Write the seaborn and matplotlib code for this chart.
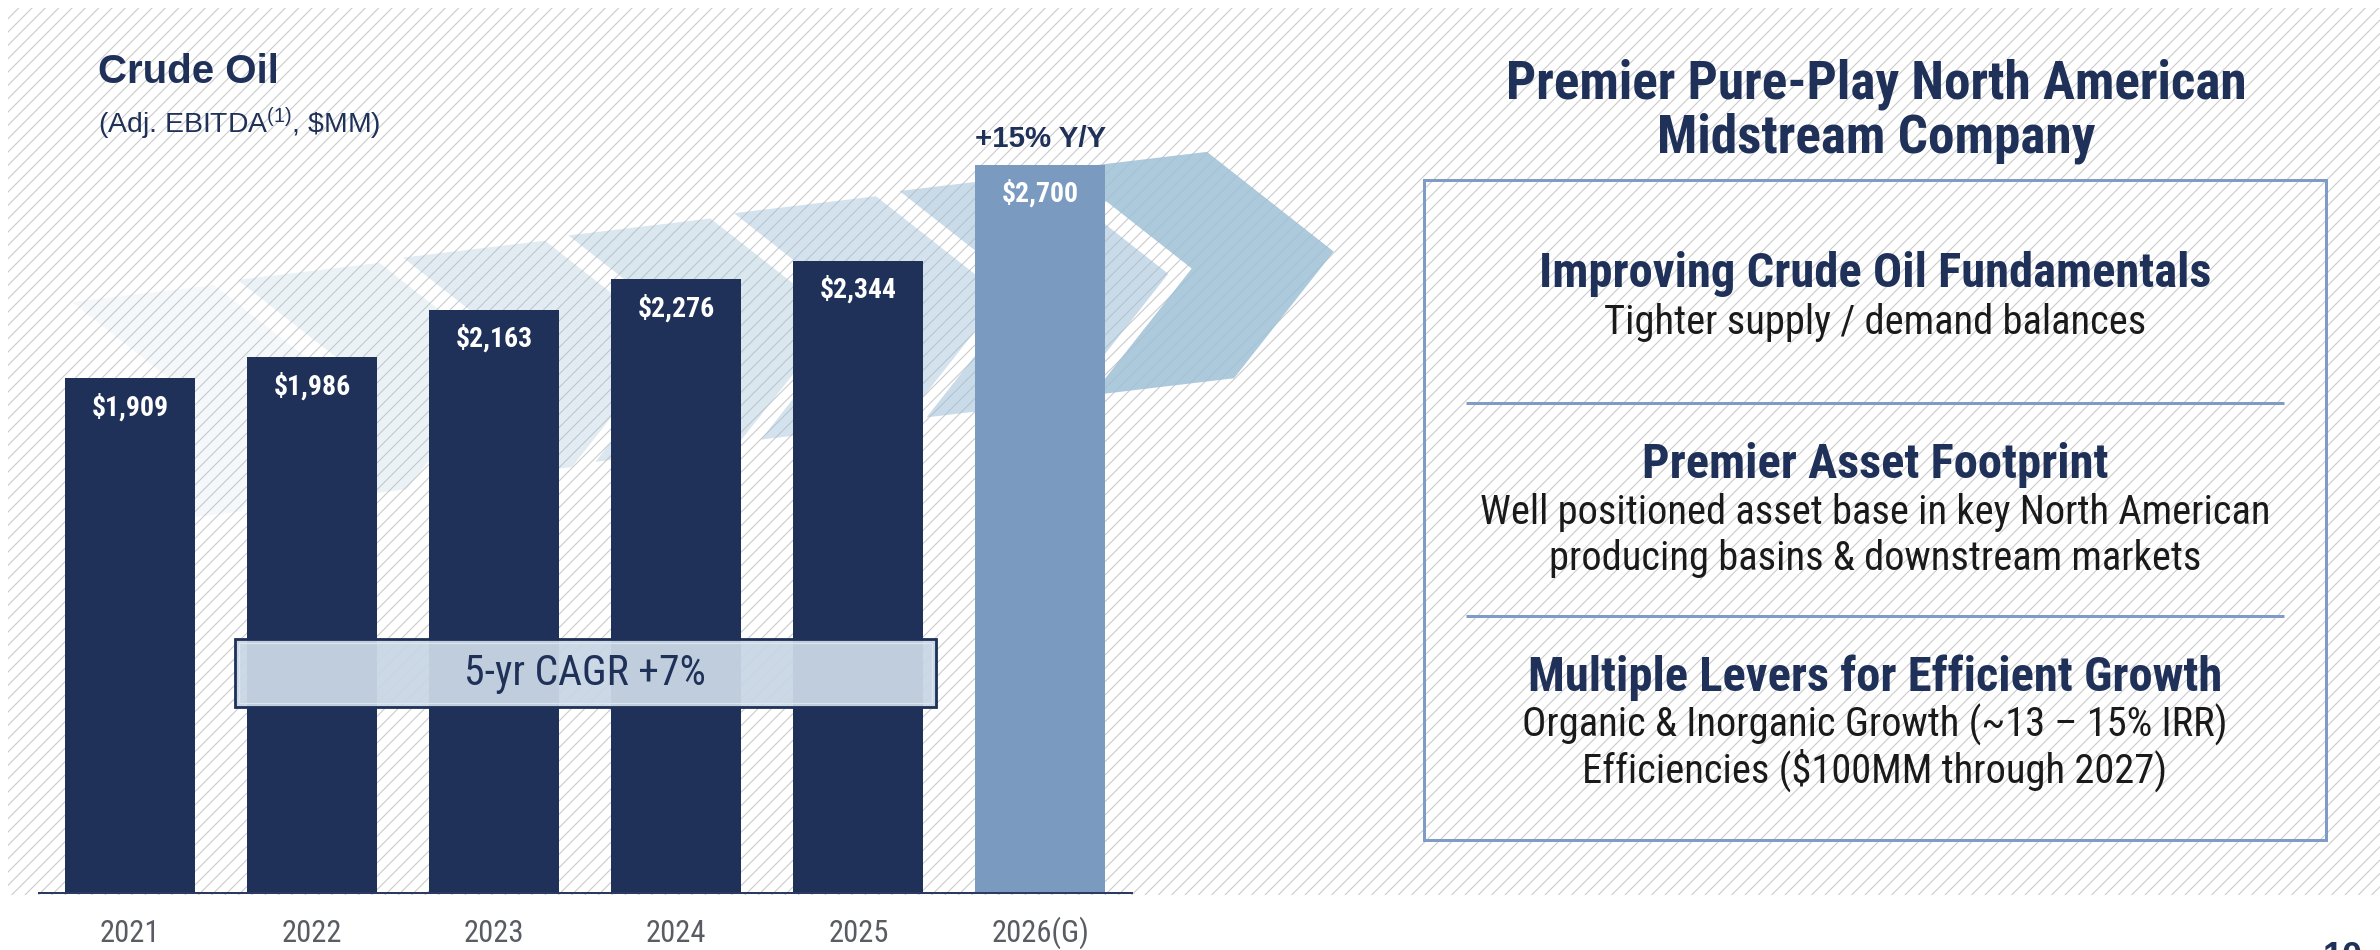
import numpy as np
import pandas as pd
import matplotlib
matplotlib.use("Agg")
import matplotlib.pyplot as plt
import seaborn as sns
from matplotlib.patches import Rectangle, Polygon
from matplotlib import font_manager as fm

# ---------------- data ----------------
years = ["2021", "2022", "2023", "2024", "2025", "2026(G)"]
ebitda = [1909, 1986, 2163, 2276, 2344, 2700]
bar_colors = ["#1f3158", "#1f3158", "#1f3158", "#1f3158", "#1f3158", "#7a9abf"]
chart_title = "Crude Oil"
chart_subtitle = r"(Adj. EBITDA$\mathregular{^{(1)}}$, \$MM)"
yoy_label = "+15% Y/Y"
cagr_label = "5-yr CAGR +7%"
panel_title = ["Premier Pure-Play North American", "Midstream Company"]
panel_heads = ["Improving Crude Oil Fundamentals",
               "Premier Asset Footprint",
               "Multiple Levers for Efficient Growth"]
panel_bodies = [["Tighter supply / demand balances"],
                ["Well positioned asset base in key North American",
                 "producing basins & downstream markets"],
                ["Organic & Inorganic Growth (~13 \u2013 15% IRR)",
                 "Efficiencies ($100MM through 2027)"]]
page_number = "10"

# ---------------- fonts ----------------
sns.set_style("white")


def _w(x):
    if isinstance(x, str):
        return fm.weight_dict.get(x, 400)
    return int(x)


def pick(prefs, fallback):
    for fam in prefs:
        ws = {_w(f.weight) for f in fm.fontManager.ttflist
              if f.name == fam and "[" not in f.fname and f.style == "normal"}
        if 400 in ws and 700 in ws:
            return fam
    return fallback


NARROW = pick(["Roboto Condensed", "IBM Plex Sans Condensed", "Fira Sans Condensed",
               "PT Sans Narrow", "Asap Condensed"], "Liberation Sans")
SANS = "Liberation Sans"
plt.rcParams["font.family"] = [SANS, "DejaVu Sans"]
plt.rcParams["hatch.linewidth"] = 0.38
NAVY = "#1f3158"
BODY = "#1a1a1a"
FRAME = "#7f9cc6"

W, H = 2380, 950
fig = plt.figure(figsize=(11.9, 4.75), dpi=200, facecolor="white")
PT = 200 / 72.0  # px per point

# background (pixel coordinates)
ax_bg = fig.add_axes([0, 0, 1, 1], zorder=0)
ax_bg.set_xlim(0, W)
ax_bg.set_ylim(H, 0)
ax_bg.axis("off")
ax_bg.add_patch(Rectangle((8, 8), W - 8, 887, facecolor="white",
                          edgecolor="#c9c9c9", hatch="/////", lw=0, zorder=0))

# rising chevron band
theta = np.deg2rad(6.8)
u = np.array([np.cos(theta), -np.sin(theta)])
v = np.array([np.sin(theta), np.cos(theta)])
cw, cd, chh = 143, 114, 228
start = np.array([72.0, 302.0])
step = np.array([165.5, -22.2])
chev_alpha = [0.10, 0.20, 0.30, 0.38, 0.46, 0.56, 0.85]
for i, a in enumerate(chev_alpha):
    p0 = start + i * step
    pts = [p0, p0 + cw * u, p0 + (cw + cd) * u + chh / 2 * v,
           p0 + cw * u + chh * v, p0 + chh * v, p0 + cd * u + chh / 2 * v]
    ax_bg.add_patch(Polygon(pts, closed=True, facecolor="#9fc0d6",
                            alpha=a, lw=0, zorder=1))

# bar chart
ax = fig.add_axes([39 / W, 57 / H, (1131.5 - 39) / W, 885 / H], zorder=1)
df = pd.DataFrame({"year": years, "value": ebitda})
sns.barplot(data=df, x="year", y="value", hue="year", palette=bar_colors,
            width=0.714, saturation=1, legend=False, linewidth=0, ax=ax)
ax.patch.set_alpha(0)
ax.set_xlim(-0.5, 5.5)
ax.set_ylim(0, 3282)
ax.set_xlabel("")
ax.set_ylabel("")
ax.set_yticks([])
for s in ["top", "right", "left"]:
    ax.spines[s].set_visible(False)
ax.spines["bottom"].set_color("#2b3b60")
ax.spines["bottom"].set_linewidth(2 / PT)
# tick labels: baseline ~49 px below the axis line
ax.tick_params(axis="x", length=0, pad=49 / PT, colors="#5a5c63", labelsize=11)
for lab in ax.get_xticklabels():
    lab.set_fontfamily([NARROW, "DejaVu Sans"])
    lab.set_verticalalignment("baseline")

bar_texts = []
for i, val in enumerate(ebitda):
    t = ax.annotate(f"${val:,.0f}", (i, val), xytext=(0, -37 / PT),
                    textcoords="offset points", ha="center", va="baseline",
                    color="white", fontweight="bold", fontsize=10,
                    family=[NARROW, "DejaVu Sans"], parse_math=False, zorder=5)
    bar_texts.append(t)
yoy = ax.annotate(yoy_label, (5, ebitda[5]), xytext=(0, 18 / PT),
                  textcoords="offset points", ha="center", va="baseline",
                  color=NAVY, fontweight="bold", fontsize=10.5)

# overlay (pixel coordinates)
fg = fig.add_axes([0, 0, 1, 1], zorder=2)
fg.set_xlim(0, W)
fg.set_ylim(H, 0)
fg.axis("off")

t_title = fg.text(98, 83, chart_title, ha="left", va="baseline", color=NAVY,
                  fontweight="bold", fontsize=13.5)
t_sub = fg.text(98, 133, chart_subtitle, ha="left", va="baseline", color=NAVY,
                fontsize=11.5)

fg.add_patch(Rectangle((235, 639), 701, 68, facecolor=(0.788, 0.839, 0.894, 0.95),
                       edgecolor=NAVY, lw=2.8 / PT, zorder=3))
fg.add_patch(Rectangle((239, 643), 693, 60, facecolor="none",
                       edgecolor="#dde6ef", lw=1.2 / PT, zorder=3))
t_cagr = fg.text(585, 685, cagr_label, ha="center", va="baseline", color=NAVY,
                 fontsize=14, family=[NARROW, "DejaVu Sans"], zorder=4)

fg.add_patch(Rectangle((1424, 180), 902, 660, facecolor="none",
                       edgecolor=FRAME, lw=3 / PT, zorder=3))
for yy in (403, 616):
    fg.plot([1466, 2284], [yy, yy], color=FRAME, lw=3 / PT, zorder=3,
            solid_capstyle="butt")
cx = 1875
pt_texts = []
for txt, yb in zip(panel_title, (98, 153)):
    pt_texts.append(fg.text(cx + 1, yb, txt, ha="center", va="baseline",
                            color=NAVY, fontweight="bold", fontsize=15.5,
                            family=[NARROW, "DejaVu Sans"]))
head_y = (287, 478, 691)
body_y = ((334,), (524, 570), (737, 783))
head_texts, body_texts = [], []
for h, hy, bodies, bys in zip(panel_heads, head_y, panel_bodies, body_y):
    head_texts.append(fg.text(cx, hy, h, ha="center", va="baseline", color=NAVY,
                              fontweight="bold", fontsize=14,
                              family=[NARROW, "DejaVu Sans"]))
    for b, by in zip(bodies, bys):
        body_texts.append(fg.text(cx, by, b, ha="center", va="baseline",
                                  color=BODY, fontsize=12.5, parse_math=False,
                                  family=[NARROW, "DejaVu Sans"]))
fg.text(2323, 941, page_number, ha="left", va="top", color=NAVY,
        fontweight="bold", fontsize=13)

# ---------- fit text sizes to the measured widths ----------
fig.canvas.draw()
rend = fig.canvas.get_renderer()


def fit(texts, ref, width):
    w = ref.get_window_extent(rend).width
    k = width / w
    for t in texts:
        t.set_fontsize(t.get_fontsize() * k)


fit([t_title], t_title, 181)
fit([t_sub], t_sub, 283)
fit([yoy], yoy, 131)
fit(bar_texts, bar_texts[5], 77)
fit([t_cagr], t_cagr, 242)
fit(pt_texts, pt_texts[0], 741)
fit(head_texts, head_texts[0], 672)
fit(body_texts, body_texts[1], 793)

fig.savefig("out.png", dpi=200, facecolor="white")
